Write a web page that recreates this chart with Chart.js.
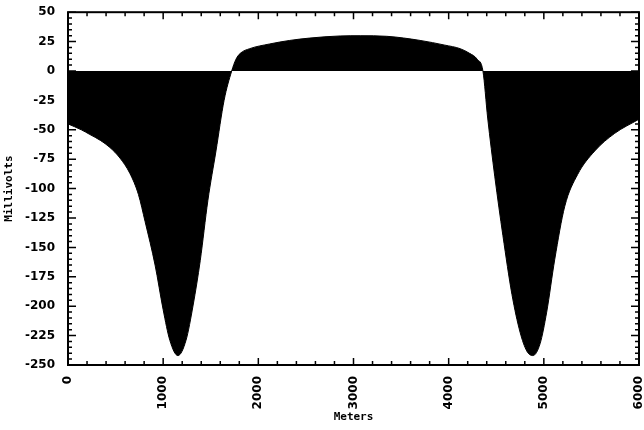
<!DOCTYPE html>
<html>
<head>
<meta charset="utf-8">
<script src="https://cdn.jsdelivr.net/npm/chart.js@4.4.0/dist/chart.umd.min.js"></script>
<style>
  html, body { margin: 0; padding: 0; background: #fff; }
  #wrap { width: 644px; height: 430px; }
</style>
</head>
<body>
<div id="wrap"><canvas id="chart"></canvas></div>
<script>
// profile (metres along line, millivolts)
const meters = [0, 140, 230, 340, 440, 546, 650, 740, 810, 915, 1000, 1070, 1155, 1240, 1315, 1390, 1470, 1555, 1640, 1720,
  1765, 1810, 1910, 2120, 2330, 2540, 2860, 3070, 3350, 3700, 3960, 4120, 4220, 4300, 4360,
  4410, 4485, 4570, 4665, 4750, 4820, 4885, 4960, 5030, 5115, 5220, 5355, 5535, 5745, 6000];
const millivolts = [-45, -50, -54, -59, -65, -74, -87, -105, -128, -165, -203, -229, -242, -229, -199, -161, -110, -68, -25, 0,
  10, 15, 19, 23, 26, 28, 29.8, 30, 29.5, 26, 22, 19, 15, 10, 0,
  -40, -90, -140, -190, -222, -238, -242, -232, -205, -160, -115, -88, -68, -53, -41];

const X_MIN = 0, X_MAX = 6000, X_STEP = 1000, X_MINOR = 200;
const Y_MIN = -250, Y_MAX = 50, Y_STEP = 25, Y_MINOR = 5;

// box frame with inward ticks on all four sides
const frameTicks = {
  id: 'frameTicks',
  afterDraw(chart) {
    const { ctx, chartArea: a, scales: { x, y } } = chart;
    ctx.save();
    ctx.strokeStyle = '#000';
    ctx.lineWidth = 1.5;
    ctx.beginPath();
    for (let v = X_MIN; v <= X_MAX; v += X_MINOR) {
      const px = x.getPixelForValue(v);
      const len = v % X_STEP === 0 ? 7 : 4;
      ctx.moveTo(px, a.bottom); ctx.lineTo(px, a.bottom - len);
      ctx.moveTo(px, a.top); ctx.lineTo(px, a.top + len);
    }
    for (let v = Y_MIN; v <= Y_MAX; v += Y_MINOR) {
      const py = y.getPixelForValue(v);
      const len = v % Y_STEP === 0 ? 8 : 4;
      ctx.moveTo(a.left, py); ctx.lineTo(a.left + len, py);
      ctx.moveTo(a.right, py); ctx.lineTo(a.right - len, py);
    }
    ctx.stroke();
    ctx.lineWidth = 2;
    ctx.strokeRect(a.left, a.top, a.right - a.left, a.bottom - a.top);
    ctx.restore();
  }
};

const tickFont = { family: 'DejaVu Sans', weight: 'bold', size: 12 };
const titleFont = { family: 'DejaVu Sans Mono', weight: 'bold', size: 11 };

new Chart(document.getElementById('chart'), {
  type: 'line',
  data: {
    datasets: [{
      data: meters.map((m, i) => ({ x: m, y: millivolts[i] })),
      borderColor: '#000',
      backgroundColor: '#000',
      borderWidth: 1,
      fill: 'origin',
      pointRadius: 0,
      cubicInterpolationMode: 'monotone',
    }],
  },
  options: {
    responsive: true,
    maintainAspectRatio: false,
    animation: false,
    layout: { padding: { top: 11, right: 5, left: 0, bottom: 0 } },
    plugins: { legend: { display: false }, tooltip: { enabled: false } },
    scales: {
      x: {
        type: 'linear',
        min: X_MIN,
        max: X_MAX,
        grid: { display: false },
        border: { display: false },
        ticks: {
          stepSize: X_STEP,
          autoSkip: false,
          minRotation: 90,
          maxRotation: 90,
          padding: 3,
          color: '#000',
          font: tickFont,
          callback: (v) => String(v),
        },
        title: { display: true, text: 'Meters', color: '#000', font: titleFont, padding: { top: 4, bottom: 6 } },
        afterFit: (s) => { s.height = 65; s.paddingLeft = 0; s.paddingRight = 0; },
      },
      y: {
        min: Y_MIN,
        max: Y_MAX,
        grid: { display: false },
        border: { display: false },
        ticks: { stepSize: Y_STEP, padding: 5, color: '#000', font: tickFont },
        title: { display: true, text: 'Millivolts', color: '#000', font: titleFont, padding: { top: 3, bottom: 4 } },
        afterFit: (s) => { s.width = 68; },
      },
    },
  },
  plugins: [frameTicks],
});
</script>
</body>
</html>
